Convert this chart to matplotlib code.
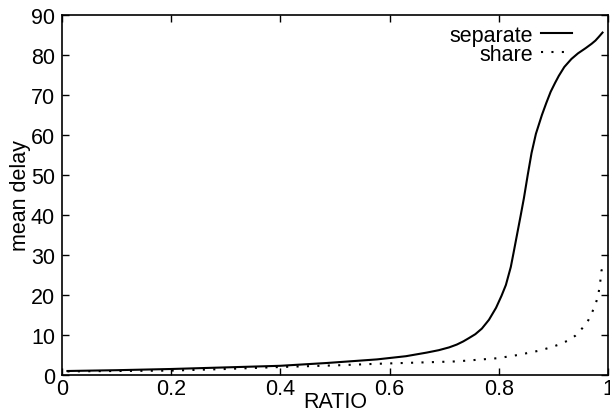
import numpy as np
import matplotlib.pyplot as plt

plt.rcParams['font.family'] = ['Liberation Sans', 'DejaVu Sans']

# values
sep_x = [0.01, 0.1, 0.2, 0.3, 0.4, 0.485, 0.577, 0.63, 0.668, 0.69, 0.709, 0.723,
         0.735, 0.745, 0.757, 0.769, 0.782, 0.795, 0.805, 0.813, 0.822, 0.827, 0.833,
         0.84, 0.846, 0.853, 0.86, 0.868, 0.879, 0.887, 0.895, 0.903, 0.91, 0.92,
         0.933, 0.945, 0.959, 0.97, 0.977, 0.983, 0.99]
sep_y = [1.0, 1.2, 1.5, 1.9, 2.3, 3.0, 3.9, 4.7, 5.6, 6.2, 6.9, 7.6,
         8.4, 9.2, 10.2, 11.6, 13.8, 16.8, 19.8, 22.5, 27.0, 30.5, 34.8,
         39.8, 44.2, 50.0, 55.5, 60.3, 65.0, 68.0, 70.8, 73.0, 74.8, 77.0,
         79.0, 80.4, 81.7, 82.8, 83.6, 84.5, 85.6]

share_x = [0.01, 0.1, 0.2, 0.3, 0.4, 0.5, 0.577, 0.65, 0.723, 0.798, 0.835, 0.871,
           0.89, 0.908, 0.925, 0.94, 0.953, 0.964, 0.972, 0.979, 0.983, 0.986, 0.988, 0.992]
share_y = [0.9, 1.0, 1.1, 1.5, 2.0, 2.4, 2.8, 3.1, 3.4, 4.2, 5.0, 6.0,
           6.7, 7.5, 8.5, 9.8, 11.7, 13.7, 16.0, 18.5, 20.7, 23.5, 26.0, 28.0]

fig = plt.figure(figsize=(6.1, 4.14), dpi=100)
ax = fig.add_axes([0.1016, 0.0918, 0.8951, 0.8696])

ax.plot(sep_x, sep_y, color='black', linewidth=1.5, label='separate')
ax.plot(share_x, share_y, color='black', linewidth=1.5, linestyle=(0, (1, 4)), label='share')

ax.set_xlim(0, 1)
ax.set_ylim(0, 90)
ax.set_xticks([0, 0.2, 0.4, 0.6, 0.8, 1])
ax.set_xticklabels(['0', '0.2', '0.4', '0.6', '0.8', '1'])
ax.set_yticks(range(0, 91, 10))
ax.tick_params(direction='in', length=5, width=1, top=True, right=True, labelsize=15.5)
ax.tick_params(axis='x', pad=2.5)
ax.tick_params(axis='y', pad=5)
for s in ax.spines.values():
    s.set_linewidth(1.2)

ax.set_xlabel('RATIO', fontsize=15.5, labelpad=-6)
ax.set_ylabel('mean delay', fontsize=15.5, labelpad=0)

leg = ax.legend(loc='upper right', frameon=False, fontsize=15.5, markerfirst=False,
                handlelength=1.4, handletextpad=0.4, labelspacing=-0.1,
                borderaxespad=0.0, bbox_to_anchor=(0.949, 0.997))
for t in leg.get_texts():
    t.set_ha('right')

fig.savefig('out.png', dpi=100)
